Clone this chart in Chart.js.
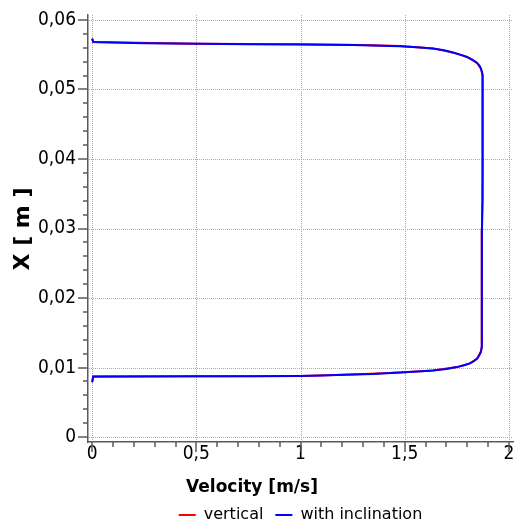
<!DOCTYPE html>
<html>
<head>
<meta charset="utf-8">
<script src="https://cdn.jsdelivr.net/npm/chart.js"></script>
<style>
  html, body { margin: 0; padding: 0; background: #fff; }
  #wrap { width: 517px; height: 527px; }
</style>
</head>
<body>
<div id="wrap"><canvas id="velChart" width="517" height="527"></canvas></div>
<script>
  // velocity profile across the channel, two cases
  var vert_v = [0, 0.005, 0.5, 1.0, 1.3, 1.477, 1.636, 1.731, 1.799, 1.847, 1.866, 1.874, 1.876, 1.874, 1.872, 1.871, 1.870, 1.871, 1.869, 1.866, 1.847, 1.813, 1.751, 1.636, 1.477, 1.25, 1.0, 0.5, 0.005, 0];
  var vert_x = [0.0573, 0.05683, 0.05658, 0.05648, 0.05638, 0.05623, 0.0559, 0.05532, 0.05468, 0.05382, 0.05302, 0.05205, 0.0505, 0.045, 0.038, 0.03, 0.02, 0.0138, 0.013, 0.0123, 0.01125, 0.0106, 0.01007, 0.00959, 0.00931, 0.009, 0.0088, 0.00875, 0.00874, 0.0079];

  var incl_v = [0, 0.005, 0.25, 0.52, 0.75, 1.0, 1.25, 1.477, 1.56, 1.636, 1.69, 1.731, 1.77, 1.799, 1.825, 1.847, 1.858, 1.866, 1.871, 1.874, 1.876, 1.876, 1.875, 1.874, 1.873, 1.872, 1.872, 1.871, 1.871, 1.870, 1.871, 1.871, 1.869, 1.866, 1.859, 1.847, 1.83, 1.813, 1.785, 1.751, 1.70, 1.636, 1.56, 1.477, 1.35, 1.25, 1.1, 1.0, 0.75, 0.52, 0.25, 0.005, 0];
  var incl_x = [0.0573, 0.0568, 0.05665, 0.05655, 0.0565, 0.05646, 0.0564, 0.05622, 0.05608, 0.05588, 0.05563, 0.0553, 0.05497, 0.05467, 0.0543, 0.05381, 0.05345, 0.053, 0.0525, 0.05204, 0.0515, 0.0505, 0.048, 0.045, 0.042, 0.038, 0.034, 0.03, 0.025, 0.02, 0.016, 0.0138, 0.013, 0.0123, 0.0118, 0.01125, 0.0109, 0.0106, 0.01033, 0.01007, 0.0098, 0.00959, 0.00944, 0.00931, 0.00908, 0.009, 0.00885, 0.0088, 0.00876, 0.00874, 0.00872, 0.0087, 0.0079];

  var x_ticks = [0, 0.5, 1, 1.5, 2];
  var y_ticks = [0, 0.01, 0.02, 0.03, 0.04, 0.05, 0.06];

  function toPoints(vs, xs) {
    return vs.map(function(v, i) { return { x: v, y: xs[i] }; });
  }

  function commaLabel(v) {
    return String(v).replace('.', ',');
  }

  var axisColor = '#5a5a5a';

  // dotted grid at the major ticks, under the curves
  var dottedGrid = {
    id: 'dottedGrid',
    beforeDatasetsDraw: function(chart) {
      var ctx = chart.ctx;
      var xs = chart.scales.x, ys = chart.scales.y;
      var area = chart.chartArea;
      ctx.save();
      ctx.strokeStyle = '#ababab';
      ctx.lineWidth = 1;
      ctx.setLineDash([1, 1]);
      ctx.beginPath();
      x_ticks.forEach(function(v) {
        var px = Math.round(xs.getPixelForValue(v)) + 0.5;
        ctx.moveTo(px, area.top);
        ctx.lineTo(px, area.bottom - 1);
      });
      y_ticks.forEach(function(v) {
        var py = Math.round(ys.getPixelForValue(v)) + 0.5;
        ctx.moveTo(area.left + 1, py);
        ctx.lineTo(area.right, py);
      });
      ctx.stroke();
      ctx.restore();
    }
  };

  // axis ticks (major + minor) and axis titles
  var axisDecor = {
    id: 'axisDecor',
    afterDraw: function(chart) {
      var ctx = chart.ctx;
      var xs = chart.scales.x, ys = chart.scales.y;
      var area = chart.chartArea;
      ctx.save();
      ctx.strokeStyle = axisColor;
      ctx.lineWidth = 1.5;
      ctx.beginPath();
      for (var i = 0; i <= 20; i++) {
        var px = Math.round(xs.getPixelForValue(i / 10));
        var len = (i % 5 === 0) ? 10 : 5;
        ctx.moveTo(px, area.bottom);
        ctx.lineTo(px, area.bottom + len);
      }
      for (var j = 0; j <= 30; j++) {
        var py = Math.round(ys.getPixelForValue(j * 0.002));
        var len2 = (j % 5 === 0) ? 10 : 5;
        ctx.moveTo(area.left, py);
        ctx.lineTo(area.left - len2, py);
      }
      ctx.stroke();

      ctx.fillStyle = '#000';
      ctx.textAlign = 'center';
      ctx.textBaseline = 'middle';
      ctx.font = 'bold 17px "DejaVu Sans"';
      ctx.fillText('Velocity [m/s]', 252, 488);

      ctx.translate(23, 229);
      ctx.rotate(-Math.PI / 2);
      ctx.font = 'bold 22px "DejaVu Sans"';
      ctx.fillText('X [ m ]', 0, 0);
      ctx.restore();
    }
  };

  Chart.defaults.font.family = '"DejaVu Sans Condensed", "DejaVu Sans"';
  Chart.defaults.color = '#000';

  var ctx = document.getElementById('velChart').getContext('2d');
  var velChart = new Chart(ctx, {
    type: 'scatter',
    data: {
      datasets: [{
        label: 'vertical',
        data: toPoints(vert_v, vert_x),
        showLine: true,
        borderColor: '#ff0000',
        backgroundColor: '#ff0000',
        borderWidth: 2,
        pointRadius: 0,
        order: 1
      }, {
        label: 'with inclination',
        data: toPoints(incl_v, incl_x),
        showLine: true,
        borderColor: '#0000ff',
        backgroundColor: '#0000ff',
        borderWidth: 2,
        pointRadius: 0,
        order: 0
      }]
    },
    options: {
      responsive: false,
      animation: false,
      layout: {
        padding: { left: 0, top: 15, right: 4, bottom: -6 }
      },
      scales: {
        x: {
          type: 'linear',
          min: -0.02,
          max: 2.02,
          afterBuildTicks: function(axis) {
            axis.ticks = x_ticks.map(function(v) { return { value: v }; });
          },
          afterFit: function(scale) {
            scale.height = 53;
            scale.paddingLeft = 0;
            scale.paddingRight = 0;
          },
          grid: { display: false, drawTicks: false },
          border: { display: true, color: axisColor, width: 1.5 },
          ticks: {
            autoSkip: false,
            maxRotation: 0,
            padding: 1,
            font: { size: 19 },
            callback: function(v) { return commaLabel(v); }
          }
        },
        y: {
          type: 'linear',
          min: -0.0007,
          max: 0.0607,
          afterBuildTicks: function(axis) {
            axis.ticks = y_ticks.map(function(v) { return { value: v }; });
          },
          afterFit: function(scale) {
            scale.width = 88;
            scale.paddingTop = 0;
            scale.paddingBottom = 0;
          },
          grid: { display: false, drawTicks: false },
          border: { display: true, color: axisColor, width: 1.5 },
          ticks: {
            autoSkip: false,
            padding: 12,
            font: { size: 19 },
            callback: function(v) { return commaLabel(v); }
          }
        }
      },
      plugins: {
        tooltip: { enabled: false },
        legend: {
          position: 'bottom',
          fullSize: false,
          labels: {
            usePointStyle: true,
            pointStyle: 'line',
            pointStyleWidth: 17,
            padding: 12,
            color: '#000',
            font: { family: '"DejaVu Sans"', size: 16 },
            sort: function(a, b) { return a.datasetIndex - b.datasetIndex; }
          }
        }
      }
    },
    plugins: [dottedGrid, axisDecor]
  });
</script>
</body>
</html>
